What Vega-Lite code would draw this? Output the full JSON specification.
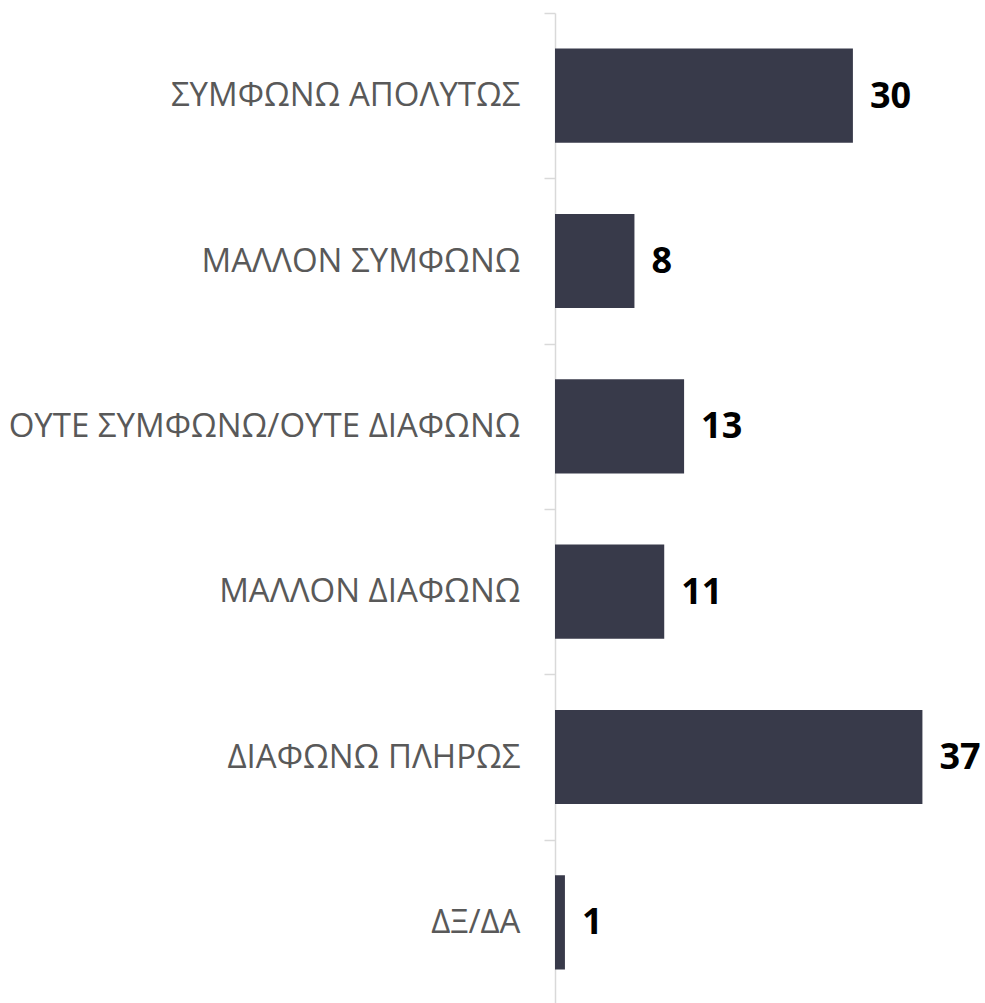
{
  "$schema": "https://vega.github.io/schema/vega-lite/v6.json",
  "width": 427,
  "height": 992,
  "autosize": {"type": "none"},
  "padding": {"left": 555, "top": 13, "right": 3, "bottom": 0},
  "background": "white",
  "config": {"view": {"stroke": null}},
  "data": {
    "values": [
      {"category": "ΣΥΜΦΩΝΩ ΑΠΟΛΥΤΩΣ", "value": 30},
      {"category": "ΜΑΛΛΟΝ ΣΥΜΦΩΝΩ", "value": 8},
      {"category": "ΟΥΤΕ ΣΥΜΦΩΝΩ/ΟΥΤΕ ΔΙΑΦΩΝΩ", "value": 13},
      {"category": "ΜΑΛΛΟΝ ΔΙΑΦΩΝΩ", "value": 11},
      {"category": "ΔΙΑΦΩΝΩ ΠΛΗΡΩΣ", "value": 37},
      {"category": "ΔΞ/ΔΑ", "value": 1}
    ]
  },
  "encoding": {
    "y": {
      "field": "category",
      "type": "nominal",
      "sort": null,
      "scale": {"paddingInner": 0, "paddingOuter": 0},
      "axis": {
        "title": null,
        "tickBand": "extent",
        "tickSize": 11,
        "tickWidth": 1.5,
        "tickColor": "#d9d9d9",
        "domainColor": "#d9d9d9",
        "domainWidth": 1.5,
        "labelFont": "Open Sans",
        "labelFontSize": 33,
        "labelColor": "#595959",
        "labelPadding": 24,
        "labelLimit": 600
      }
    },
    "x": {
      "field": "value",
      "type": "quantitative",
      "scale": {"domain": [0, 43], "nice": false},
      "axis": null
    }
  },
  "layer": [
    {"mark": {"type": "bar", "color": "#383a4a", "height": {"band": 0.57}}},
    {
      "mark": {
        "type": "text",
        "align": "left",
        "baseline": "middle",
        "dx": 17,
        "dy": 1,
        "font": "Open Sans",
        "fontSize": 36,
        "fontWeight": "bold",
        "color": "#000000"
      },
      "encoding": {"text": {"field": "value", "type": "quantitative"}}
    }
  ]
}
